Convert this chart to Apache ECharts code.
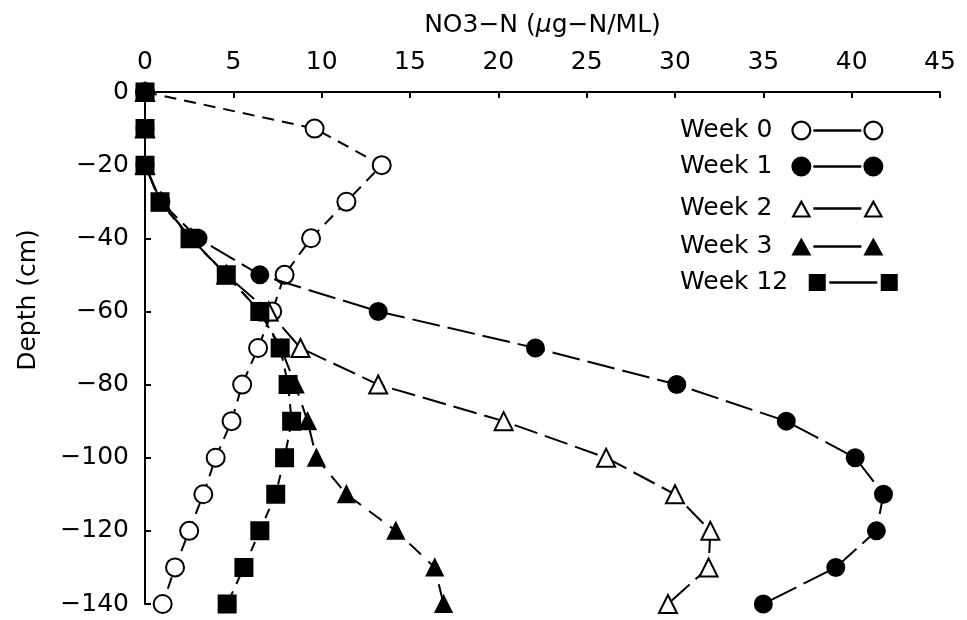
<!DOCTYPE html>
<html>
<head>
<meta charset="utf-8">
<script src="https://cdn.jsdelivr.net/npm/echarts@6/dist/echarts.min.js"></script>
<style>
  html, body { margin: 0; padding: 0; background: #fff; }
  #chart { width: 967px; height: 620px; }
</style>
</head>
<body>
<div id="chart"></div>
<script>
// depth (cm) of each sample
const depths = [0, -10, -20, -30, -40, -50, -60, -70, -80, -90, -100, -110, -120, -130, -140]
// NO3-N at each depth
const week0 = [0, 9.6, 13.4, 11.4, 9.4, 7.9, 7.2, 6.4, 5.5, 4.9, 4.0, 3.3, 2.5, 1.7, 1.0]
const week1 = [0, 0, 0, 0.9, 3.0, 6.5, 13.2, 22.1, 30.1, 36.3, 40.2, 41.8, 41.4, 39.1, 35.0]
const week2 = [0, 0, 0, 0.9, 2.6, 4.6, 7.0, 8.8, 13.2, 20.3, 26.1, 30.0, 32.0, 31.9, 29.6]
const week3 = [0, 0, 0, 0.9, 2.6, 4.6, 6.5, 7.7, 8.5, 9.2, 9.7, 11.4, 14.2, 16.4, 16.9]
const week12 = [0, 0, 0, 0.85, 2.55, 4.6, 6.5, 7.65, 8.1, 8.3, 7.9, 7.4, 6.5, 5.6, 4.65]

const font = 'DejaVu Sans'
const fs = 25
const minus = v => String(v).replace('-', '\u2212')

// legend icons: symbol — symbol, drawn as one filled path (94 x 22 box)
const bar = 'M23,9.7 L71,9.7 L71,12.3 L23,12.3 Z '
const ring = cx => `M${cx - 10},11 A10,10 0 1,1 ${cx + 10},11 A10,10 0 1,1 ${cx - 10},11 Z M${cx - 7.8},11 A7.8,7.8 0 1,0 ${cx + 7.8},11 A7.8,7.8 0 1,0 ${cx - 7.8},11 Z `
const dot = cx => `M${cx - 10},11 A10,10 0 1,1 ${cx + 10},11 A10,10 0 1,1 ${cx - 10},11 Z `
const tri = cx => `M${cx - 10},20 L${cx},2 L${cx + 10},20 Z `
const openTri = cx => tri(cx) + `M${cx - 6.5},18 L${cx + 6.5},18 L${cx},6.5 Z `
const sq = cx => `M${cx - 8.5},2.5 L${cx + 8.5},2.5 L${cx + 8.5},19.5 L${cx - 8.5},19.5 Z `
const edge = 'M0,0 L0.01,0 L0.01,0.01 Z M94,22 L93.99,22 L93.99,21.99 Z '
const icons = [
  'path://' + edge + ring(11) + bar + ring(83),
  'path://' + edge + dot(11) + bar + dot(83),
  'path://' + edge + openTri(11) + bar + openTri(83),
  'path://' + edge + tri(11) + bar + tri(83),
  'path://' + edge + sq(11) + bar + sq(83)
]
const legendTops = [113, 149, 191, 229, 265]

const names = ['Week 0', 'Week 1', 'Week 2', 'Week 3', 'Week 12']
const values = [week0, week1, week2, week3, week12]
const symbols = ['emptyCircle', 'circle', 'emptyTriangle', 'triangle', 'rect']
const sizes = [18, 17, 18, 16, 17]
const dashes = [[12, 8], [28, 8], [24, 8], [16, 10], [10, 8]]

var myChart = echarts.init(document.getElementById('chart'))
myChart.setOption({
  animation: false,
  backgroundColor: '#fff',
  textStyle: { fontFamily: font, color: '#000' },
  grid: { left: 145, top: 92, right: 27, bottom: 16 },
  // one legend per row so the text is left aligned and the icon follows it
  legend: names.map((n, i) => ({
    left: 675,
    top: legendTops[i],
    align: 'right',
    itemWidth: 94,
    itemHeight: 22,
    selectedMode: false,
    textStyle: { fontFamily: font, fontSize: fs, color: '#000', padding: [0, 13, 0, 0] },
    itemStyle: { color: '#000', borderWidth: 0 },
    data: [{ name: n, icon: icons[i] }]
  })),
  xAxis: {
    type: 'value',
    position: 'top',
    min: 0,
    max: 45,
    interval: 5,
    name: '{a|NO3\u2212N (}{i|\u03bc}{a|g\u2212N/ML)}',
    nameLocation: 'middle',
    nameGap: 54,
    nameTextStyle: {
      rich: {
        a: { fontFamily: font, fontSize: fs, color: '#000' },
        i: { fontFamily: font, fontSize: fs, color: '#000', fontStyle: 'italic' }
      }
    },
    axisLine: { lineStyle: { color: '#000', width: 2 } },
    axisTick: { inside: true, length: 6, lineStyle: { color: '#000', width: 2 } },
    axisLabel: { fontFamily: font, fontSize: fs, color: '#000', margin: 17 },
    splitLine: { show: false }
  },
  yAxis: {
    type: 'value',
    min: -140,
    max: 0,
    interval: 20,
    name: 'Depth (cm)',
    nameLocation: 'middle',
    nameGap: 104,
    nameTextStyle: { fontFamily: font, fontSize: fs, color: '#000', padding: [0, 0, 0, 96] },
    axisLine: { onZero: false, lineStyle: { color: '#000', width: 2 } },
    axisTick: { inside: true, length: 6, lineStyle: { color: '#000', width: 2 } },
    axisLabel: { fontFamily: font, fontSize: fs, color: '#000', margin: 16, formatter: minus },
    splitLine: { show: false }
  },
  series: names.map((n, i) => ({
    name: n,
    type: 'line',
    data: depths.map((d, j) => [values[i][j], d]),
    symbol: symbols[i],
    symbolSize: sizes[i],
    showAllSymbol: true,
    itemStyle: { color: '#000', borderColor: '#000', borderWidth: 2 },
    lineStyle: { color: '#000', width: 2, type: dashes[i] },
    z: 2 + i
  }))
})
</script>
</body>
</html>
